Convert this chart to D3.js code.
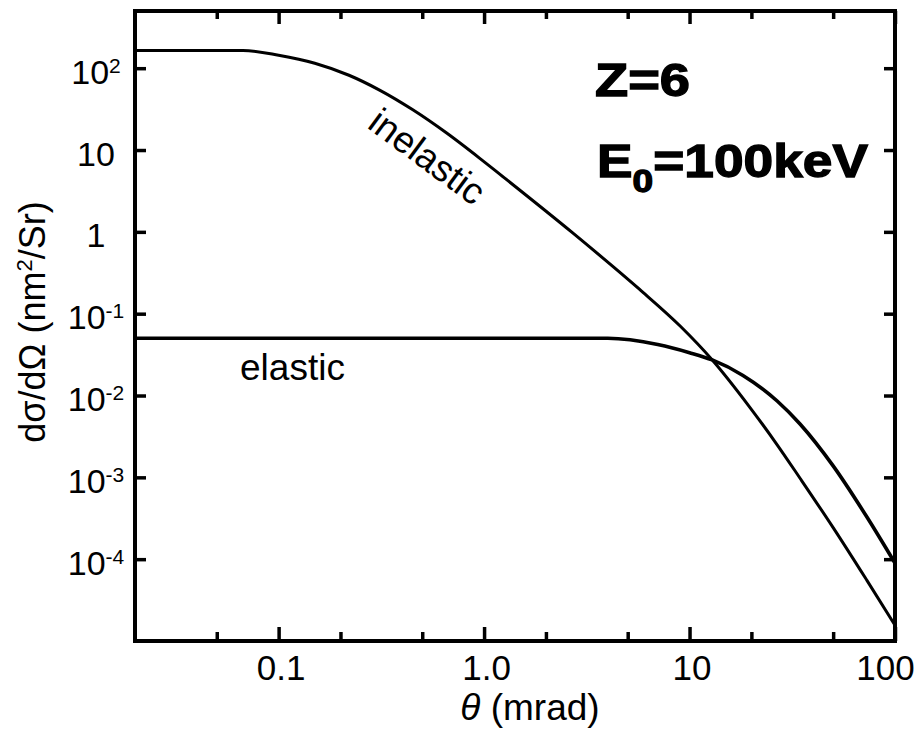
<!DOCTYPE html>
<html>
<head>
<meta charset="utf-8">
<script src="https://cdn.jsdelivr.net/npm/d3@7"></script>
<style>
  body { margin: 0; background: #fff; }
  svg { display: block; }
  text { font-family: "Liberation Sans", Arial, sans-serif; fill: #000; }
</style>
</head>
<body>
<svg id="chart" width="921" height="732"></svg>
<script>
// Differential cross-section of carbon (Z=6) at 100 keV, vs scattering angle
const inelasticTheta = [0.02, 0.067, 0.10, 0.15, 0.22, 0.31, 0.45, 0.66, 0.96, 1.2, 2.7, 5.7, 9.0, 12.9, 19.7, 26.7, 34.5, 50, 73, 100];
const inelasticValue = [165, 165, 144, 115, 82, 54, 31, 16, 7.8, 5.0, 0.97, 0.199, 0.0706, 0.0272, 0.00713, 0.0025, 0.000975, 0.000243, 0.000055, 0.0000156];
const elasticTheta = [0.02, 4.0, 7.0, 10, 12.9, 18.2, 26.7, 34.5, 50, 73, 100];
const elasticValue = [0.05, 0.05, 0.042, 0.0334, 0.0272, 0.0176, 0.00857, 0.00449, 0.00138, 0.000327, 0.0000893];

const xMajorTicks = [0.1, 1, 10, 100];
const xMajorLabels = ["0.1", "1.0", "10", "100"];
const xMinorTicks = [0.05, 0.2, 0.5, 2, 5, 20, 50];
const yTicks = [1e2, 1e1, 1e0, 1e-1, 1e-2, 1e-3, 1e-4];
const yTickBase = ["10", "10", "1", "10", "10", "10", "10"];
const yTickExp = ["2", "", "", "-1", "-2", "-3", "-4"];

const svg = d3.select("#chart");
const plotLeft = 135, plotRight = 895, plotTop = 11, plotBottom = 641;

const x = d3.scaleLog().domain([0.02, 100]).range([plotLeft, plotRight]);
const y = d3.scaleLog().domain([1e-5, 500]).range([plotBottom, plotTop]);

const tickStyle = g => {
  g.select(".domain").remove();
  g.selectAll(".tick line").attr("stroke", "#000").attr("stroke-width", 3.5);
};

// bottom axis: major ticks with labels, then minor ticks
const xAxisMajor = svg.append("g")
  .attr("transform", `translate(0,${plotBottom})`)
  .call(d3.axisBottom(x).tickValues(xMajorTicks)
    .tickFormat((d, i) => xMajorLabels[i])
    .tickSizeInner(-14).tickSizeOuter(0).tickPadding(14))
  .call(tickStyle);
xAxisMajor.selectAll(".tick text")
  .attr("font-size", 35)
  .attr("font-family", "Liberation Sans, Arial, sans-serif")
  .attr("fill", "#000")
  .attr("dx", d => d === 100 ? -10 : 2);

svg.append("g")
  .attr("transform", `translate(0,${plotBottom})`)
  .call(d3.axisBottom(x).tickValues(xMinorTicks).tickFormat(() => "")
    .tickSizeInner(-9).tickSizeOuter(0))
  .call(tickStyle);

// top axis: ticks only
svg.append("g")
  .attr("transform", `translate(0,${plotTop})`)
  .call(d3.axisTop(x).tickValues(xMajorTicks).tickFormat(() => "")
    .tickSizeInner(-13).tickSizeOuter(0))
  .call(tickStyle);
svg.append("g")
  .attr("transform", `translate(0,${plotTop})`)
  .call(d3.axisTop(x).tickValues(xMinorTicks).tickFormat(() => "")
    .tickSizeInner(-8).tickSizeOuter(0))
  .call(tickStyle);

// left axis with power-of-ten labels
const yAxisLeft = svg.append("g")
  .attr("transform", `translate(${plotLeft},0)`)
  .call(d3.axisLeft(y).tickValues(yTicks).tickFormat(() => "")
    .tickSizeInner(-11).tickSizeOuter(0))
  .call(tickStyle);
yAxisLeft.selectAll(".tick text").each(function(d, i) {
  const t = d3.select(this)
    .attr("x", -39).attr("y", 15).attr("dy", null)
    .attr("text-anchor", "middle")
    .attr("font-size", 34)
    .attr("font-family", "Liberation Sans, Arial, sans-serif")
    .attr("fill", "#000");
  t.text(null);
  t.append("tspan").text(yTickBase[i]);
  if (yTickExp[i]) {
    t.append("tspan").attr("font-size", 21).attr("dy", -11).text(yTickExp[i]);
  }
});

// right axis: ticks only
svg.append("g")
  .attr("transform", `translate(${plotRight},0)`)
  .call(d3.axisRight(y).tickValues(yTicks).tickFormat(() => "")
    .tickSizeInner(-11).tickSizeOuter(0))
  .call(tickStyle);

// plot frame
svg.append("rect")
  .attr("x", plotLeft).attr("y", plotTop)
  .attr("width", plotRight - plotLeft).attr("height", plotBottom - plotTop)
  .attr("fill", "none").attr("stroke", "#000").attr("stroke-width", 4);

// curves
const line = d3.line().x(d => x(d[0])).y(d => y(d[1])).curve(d3.curveMonotoneX);
const plot = svg.append("g");
plot.append("path")
  .datum(elasticTheta.map((t, i) => [t, elasticValue[i]]))
  .attr("d", line).attr("fill", "none").attr("stroke", "#000").attr("stroke-width", 3.6);
plot.append("path")
  .datum(inelasticTheta.map((t, i) => [t, inelasticValue[i]]))
  .attr("d", line).attr("fill", "none").attr("stroke", "#000").attr("stroke-width", 3);

// curve labels
svg.append("text").attr("x", 240).attr("y", 380).attr("font-size", 37).text("elastic");
svg.append("text")
  .attr("transform", "translate(366,127) rotate(36.5)")
  .attr("font-size", 37).text("inelastic");

// parameters
svg.append("text").attr("x", 595).attr("y", 96)
  .attr("font-size", 46).attr("font-weight", "bold")
  .attr("stroke", "#000").attr("stroke-width", 1.3)
  .attr("textLength", 95).attr("lengthAdjust", "spacingAndGlyphs")
  .text("Z=6");
const e0 = svg.append("text").attr("x", 597).attr("y", 177)
  .attr("font-size", 46).attr("font-weight", "bold")
  .attr("stroke", "#000").attr("stroke-width", 1.3)
  .attr("textLength", 271).attr("lengthAdjust", "spacingAndGlyphs");
e0.append("tspan").text("E");
e0.append("tspan").attr("font-size", 32).attr("dy", 15).text("0");
e0.append("tspan").attr("dy", -15).text("=100keV");

// axis titles
const xt = svg.append("text").attr("x", 530).attr("y", 720)
  .attr("text-anchor", "middle").attr("font-size", 37);
xt.append("tspan").attr("font-style", "italic").text("θ");
xt.append("tspan").text(" (mrad)");

const yt = svg.append("text")
  .attr("transform", "translate(45,322) rotate(-90)")
  .attr("text-anchor", "middle").attr("font-size", 36);
yt.append("tspan").text("dσ/dΩ (nm");
yt.append("tspan").attr("font-size", 22).attr("dy", -13).text("2");
yt.append("tspan").attr("dy", 13).text("/Sr)");
</script>
</body>
</html>
